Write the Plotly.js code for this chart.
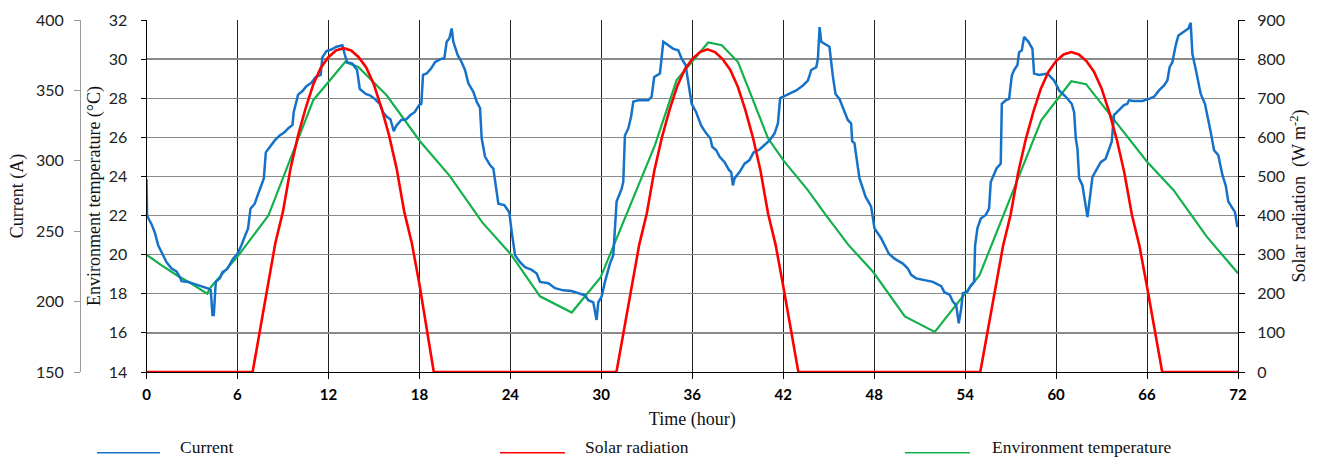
<!DOCTYPE html>
<html>
<head>
<meta charset="utf-8">
<script src="https://cdn.plot.ly/plotly-3.0.1.min.js"></script>
<style>html,body{margin:0;padding:0;background:#fff;}#chart{width:1322px;height:461px;}</style>
</head>
<body>
<div id="chart"></div>
<script>
// ---- Data ----
const xTickValues = [0, 6, 12, 18, 24, 30, 36, 42, 48, 54, 60, 66, 72];

const currentHours = [0.0,0.04,0.33,0.55,0.77,0.99,1.32,1.65,1.98,2.24,2.31,2.75,3.3,3.74,4.13,4.24,4.35,4.44,4.57,4.84,5.01,5.32,5.54,5.71,6.0,6.26,6.55,6.7,6.86,7.14,7.3,7.58,7.74,7.87,8.13,8.46,8.79,9.12,9.34,9.63,9.71,10.0,10.29,10.55,10.88,11.16,11.49,11.6,11.87,12.2,12.53,12.92,13.08,13.23,13.58,13.89,14.07,14.46,14.73,15.05,15.38,15.6,15.87,16.09,16.31,16.48,16.81,17.14,17.41,17.69,17.98,18.13,18.24,18.48,18.77,19.03,19.36,19.65,19.8,19.98,20.13,20.24,20.53,20.79,21.01,21.23,21.56,21.78,22.0,22.11,22.33,22.66,22.88,23.03,23.21,23.6,23.93,24.09,24.31,24.64,24.97,25.41,25.74,25.96,26.51,26.95,27.49,28.04,28.48,28.92,29.14,29.47,29.69,29.8,30.02,30.24,30.57,30.79,30.9,31.01,31.34,31.45,31.56,31.78,31.96,32.11,32.44,33.1,33.32,33.49,33.87,34.09,34.42,34.75,35.08,35.3,35.56,35.74,35.96,36.26,36.59,36.92,37.19,37.32,37.58,37.8,38.13,38.42,38.57,38.68,38.79,39.12,39.45,39.78,40.04,40.44,40.77,41.1,41.43,41.65,41.8,42.2,42.86,43.3,43.63,43.85,44.18,44.29,44.4,44.51,45.05,45.27,45.45,45.71,45.93,46.26,46.48,46.55,46.7,46.81,47.03,47.25,47.43,47.8,48.02,48.46,48.68,48.97,49.34,49.89,50.22,50.44,50.77,51.43,51.87,52.42,52.64,52.97,53.19,53.41,53.58,53.74,53.85,54.15,54.37,54.59,54.66,54.81,55.03,55.36,55.58,55.69,55.91,56.07,56.35,56.42,56.68,56.9,57.08,57.23,57.45,57.56,57.74,57.89,58.18,58.44,58.55,58.88,59.43,59.87,60.2,60.64,61.03,61.19,61.3,61.41,61.52,61.74,62.07,62.29,62.4,62.66,62.95,63.27,63.49,63.67,63.82,64.15,64.48,64.7,64.81,65.14,65.69,66.13,66.46,66.79,67.12,67.34,67.49,67.67,67.89,68.07,68.44,68.73,68.88,68.99,69.25,69.54,69.82,69.98,70.2,70.42,70.7,70.97,71.19,71.36,71.63,71.8,71.96];
const currentValues = [287,261,255,249,240,235,228,223.5,221.5,216.5,214.5,214,212,210.5,209,208,190.5,190.5,214,216.5,221,223,227,230.5,234,240,248,252,266,269.5,274.5,282.5,287.5,306,310,314.5,318,320.5,323,325.5,334.5,347,349.5,353,355.5,359.5,361,373.5,378,379,381,382,375.5,370,369,364.5,351,347.5,346.5,344,340.5,334.5,331,329.5,321,325,329,329.5,332.5,334.5,339.5,340.5,361,362,365.5,370,372,373,384.5,387,394,384.5,375,370,364.5,355,349,342,337.5,316,303,297,294.5,282.5,269.5,268.5,263.5,249.5,233,228,224.5,222.5,220,214,213,209.5,208,207.5,206,204.5,201,199.5,187,199.5,203.5,214,227,233,252,271,280,285,318,323,331,342,343,343,345.5,359.5,362,384.5,382,379.5,378.5,372.5,368,356,340.5,334.5,325,319.5,316,310,307.5,303,299,293.5,292,282.5,287.5,292,298,300.5,306,308,311,314.5,319.5,326.5,344.5,346.5,350,353.5,357,364.5,366.5,372.5,395,384.5,381,360.5,347.5,344,338,329,326.5,314,312.5,304,287.5,280.5,274.5,267.5,252,245,240,234,230.5,227,223.5,219,216.5,215,214,211,206.5,205,200,197.5,184.5,195,206,207,211.5,214,240,252,259,261.5,266,285,290,294.5,298,340.5,343,344,360.5,364.5,368,377,378.5,388,384.5,379.5,362,361,362,357,350,345.5,340.5,334.5,316,308.5,287.5,282.5,260,280.5,288.5,293.5,299,301.5,307.5,313.5,332.5,336,339.5,340.5,343,342.5,342.5,344,345.5,350,353.5,357,366.5,370,382,389,391.5,394,398,376,363,347.5,340.5,332.5,320.5,307.5,304,290,282.5,271,266,263.5,253];

const tempHours = [0,1,2,3,4.0,4.25,6.0,8.04,11.0,13.1,13.97,15.84,18.04,20.0,22.15,24.05,25.96,28.05,29.95,33.54,34.97,37.05,37.95,39.02,41.0,42.05,43.6,44.84,46.3,47.95,50.02,52.0,54.95,59.02,61.0,61.98,66.0,67.75,69.95,72];
const tempValues = [20,19.45,18.95,18.5,18.0,18.35,19.9,22.0,27.9,29.85,29.6,28.15,25.8,24.03,21.65,20.0,17.87,17.04,18.83,25.6,28.93,30.85,30.71,29.85,25.95,24.78,23.33,22.0,20.5,19.1,16.84,16.05,18.95,26.87,28.87,28.72,24.75,23.3,20.91,19.05];

const solarHours = [0,7.0,7.5,8,8.5,9,9.5,10,10.5,11,11.5,12,12.5,13,13.5,14,14.5,15,15.5,16,16.5,17,17.5,18,18.5,18.95,
  31.0,31.5,32,32.5,33,33.5,34,34.5,35,35.5,36,36.5,37,37.5,38,38.5,39,39.5,40,40.5,41,41.5,42,42.5,43.0,
  55.0,55.5,56,56.5,57,57.5,58,58.5,59,59.5,60,60.5,61,61.5,62,62.5,63,63.5,64,64.5,65,65.5,66,66.5,67.0,72];
const solarValues = [0,0,110,225,330,410,520,605,675,735,778,805,822,828,822,805,778,735,675,605,520,410,330,225,110,0,
  0,105,220,325,405,515,600,670,730,773,800,818,825,818,800,773,730,670,600,515,405,325,220,105,0,
  0,105,218,322,402,510,595,665,725,768,795,812,818,812,795,768,725,665,595,510,402,322,218,105,0,0];

const seriesNames = ["Current", "Solar radiation", "Environment temperature"];
const seriesColors = ["#1572c8", "#ff0000", "#14b04c"];

// ---- Traces ----
const traces = [
  {x: tempHours, y: tempValues, type: "scatter", mode: "lines", name: seriesNames[2], yaxis: "y",
   line: {color: seriesColors[2], width: 2.2}, showlegend: false, hoverinfo: "skip"},
  {x: currentHours, y: currentValues, type: "scatter", mode: "lines", name: seriesNames[0], yaxis: "y2",
   line: {color: seriesColors[0], width: 2.5}, showlegend: false, hoverinfo: "skip"},
  {x: solarHours, y: solarValues, type: "scatter", mode: "lines", name: seriesNames[1], yaxis: "y3",
   line: {color: seriesColors[1], width: 2.6}, showlegend: false, hoverinfo: "skip"}
];

const serif = "Liberation Serif, Times New Roman, serif";
const sans = "Lato, Carlito, Calibri, sans-serif";

// legend drawn below the plot (paper coordinates; plot area spans x 80..1238 px, y 20..372 px)
const legendItems = [
  {x0: 0.0147, x1: 0.069, tx: 0.0846},
  {x0: 0.3627, x1: 0.4188, tx: 0.4344},
  {x0: 0.7124, x1: 0.7686, tx: 0.7858}
];
const shapes = legendItems.map((it, i) => ({
  type: "line", xref: "paper", yref: "paper", x0: it.x0, x1: it.x1, y0: -0.2295, y1: -0.2295,
  line: {color: seriesColors[i], width: 1.5}
}));
const annotations = legendItems.map((it, i) => ({
  xref: "paper", yref: "paper", x: it.tx, y: -0.214, xanchor: "left", yanchor: "middle",
  text: seriesNames[i], showarrow: false, font: {family: serif, size: 17.5, color: "#111"}
}));

const xStart = (146.5 - 80) / 1158;

const layout = {
  width: 1322, height: 461,
  margin: {l: 80, r: 84, t: 20, b: 89},
  paper_bgcolor: "#ffffff", plot_bgcolor: "#ffffff",
  showlegend: false,
  xaxis: {
    domain: [xStart, 1], range: [0, 72], tickvals: xTickValues, ticktext: xTickValues.map(String),
    showgrid: true, gridcolor: "#222222", gridwidth: 1, zeroline: false, layer: "below traces",
    showline: true, linecolor: "#000", linewidth: 1, ticks: "outside", ticklen: 6, tickcolor: "#000",
    ticklabelstandoff: 3,
    tickfont: {family: sans, size: 15, color: "#000", weight: "bold"},
    title: {text: "Time (hour)", font: {family: serif, size: 18, color: "#111"}, standoff: 10}
  },
  yaxis: {
    range: [14, 32], dtick: 2, anchor: "x",
    showgrid: true, gridcolor: "#8a8a8a", gridwidth: 1.3, zeroline: false,
    showline: true, linecolor: "#000", linewidth: 1, ticks: "outside", ticklen: 5, tickcolor: "#000",
    ticklabelstandoff: 10,
    tickfont: {family: sans, size: 16, color: "#222"},
    title: {text: "Environment temperature (°C)", font: {family: serif, size: 18, color: "#111"}, standoff: 3}
  },
  yaxis2: {
    range: [150, 400], dtick: 50, overlaying: "y", anchor: "free", position: 0, side: "left",
    showgrid: false, zeroline: false,
    showline: true, linecolor: "#9a9a9a", linewidth: 1, ticks: "outside", ticklen: 6, tickcolor: "#9a9a9a",
    ticklabelstandoff: 7,
    tickfont: {family: sans, size: 16, color: "#222"},
    title: {text: "Current (A)", font: {family: serif, size: 18, color: "#111"}, standoff: 6}
  },
  yaxis3: {
    range: [0, 900], dtick: 100, overlaying: "y", anchor: "x", side: "right",
    showgrid: false, zeroline: false,
    showline: true, linecolor: "#000", linewidth: 1, ticks: "outside", ticklen: 6, tickcolor: "#000",
    ticklabelstandoff: 9,
    tickfont: {family: sans, size: 16, color: "#222"},
    title: {text: "Solar radiation  (W m<sup>-2</sup>)", font: {family: serif, size: 18, color: "#111"}, standoff: 8}
  },
  shapes: shapes,
  annotations: annotations
};

Plotly.newPlot("chart", traces, layout, {staticPlot: true, displayModeBar: false});
</script>
</body>
</html>
